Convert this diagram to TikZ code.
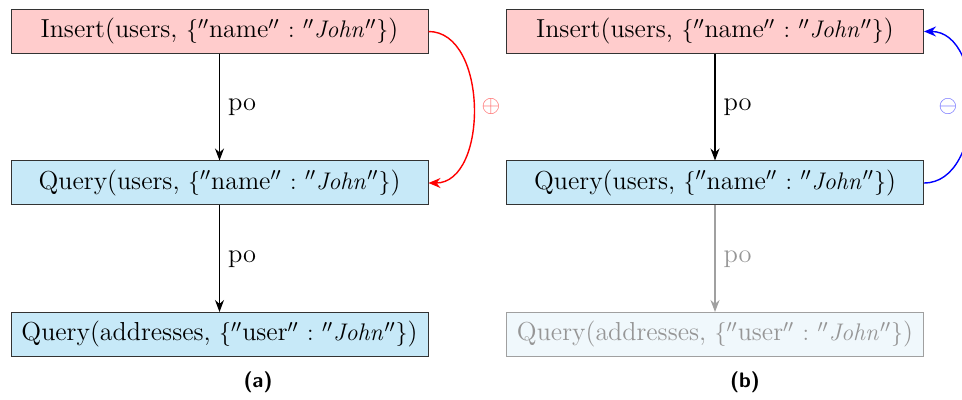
\documentclass[tikz,border=0pt]{standalone}
\usetikzlibrary{arrows.meta}
\definecolor{insfill}{RGB}{255,204,204}
\definecolor{qfill}{RGB}{199,233,248}
\definecolor{fadefill}{RGB}{240,248,252}
\definecolor{fadeline}{RGB}{160,160,160}
\definecolor{fadetext}{RGB}{150,150,150}
\newcommand{\qq}{{}''}
\newcommand{\kv}[2]{$\{\qq\mbox{#1}\qq\ \mathord{:}\ \qq\mathit{#2}\qq\}$}
\tikzset{
  opbox/.style={draw=black!80, line width=0.5pt, minimum width=208.5pt, minimum height=22pt,
    inner sep=0pt, font=\fontsize{13}{15}\selectfont},
  insbox/.style={opbox, fill=insfill},
  qbox/.style={opbox, fill=qfill},
  fadebox/.style={opbox, fill=fadefill, draw=fadeline, text=fadetext},
  poedge/.style={-{Stealth[length=6pt,width=4.5pt]}, line width=0.6pt},
  polabel/.style={right, font=\fontsize{13.2}{15}\selectfont, inner sep=4pt},
  conflict/.style={-{Stealth[length=6pt,width=5pt,inset=2pt]}, line width=0.7pt},
  caption/.style={font=\sffamily\bfseries\fontsize{10.5}{12}\selectfont},
}
\begin{document}
\begin{tikzpicture}[x=0.5pt, y=-0.5pt]
  \clip (0,0) rectangle (962,400);
  \useasboundingbox (0,0) rectangle (962,400);

  % left: the insert is seen by the query on users
  \node[insbox] (ia) at (219.5,31.5) {Insert(users, \kv{name}{John})};
  \node[qbox]   (qa) at (219.5,183)  {Query(users, \kv{name}{John})};
  \node[qbox]   (ra) at (219.5,334.5) {Query(addresses, \kv{user}{John})};
  \draw[poedge] (ia) -- node[polabel] {po} (qa);
  \draw[poedge] (qa) -- node[polabel] {po} (ra);
  \draw[conflict, red] (ia.east) .. controls +(60,0) and +(60,0) .. (qa.east);
  \node[text=red!60, font=\fontsize{13.2}{15}\selectfont] (plus) at (491,107) {$\oplus$};
  \node[caption] (capa) at (258,382) {(a)};

  % right: the query on users no longer sees the insert
  \node[insbox]  (ib) at (715,31.5) {Insert(users, \kv{name}{John})};
  \node[qbox]    (qb) at (715,183)  {Query(users, \kv{name}{John})};
  \node[fadebox] (rb) at (715,334.5) {Query(addresses, \kv{user}{John})};
  \draw[poedge] (ib) -- node[polabel] {po} (qb);
  \draw[poedge, fadeline] (qb) -- node[polabel, text=fadetext] {po} (rb);
  \draw[conflict, blue] (qb.east) .. controls +(62,0) and +(62,0) .. (ib.east);
  \node[text=blue!60, font=\fontsize{13.2}{15}\selectfont] (minus) at (948,107) {$\ominus$};
  \node[caption] (capb) at (745,382) {(b)};
\end{tikzpicture}
\end{document}
